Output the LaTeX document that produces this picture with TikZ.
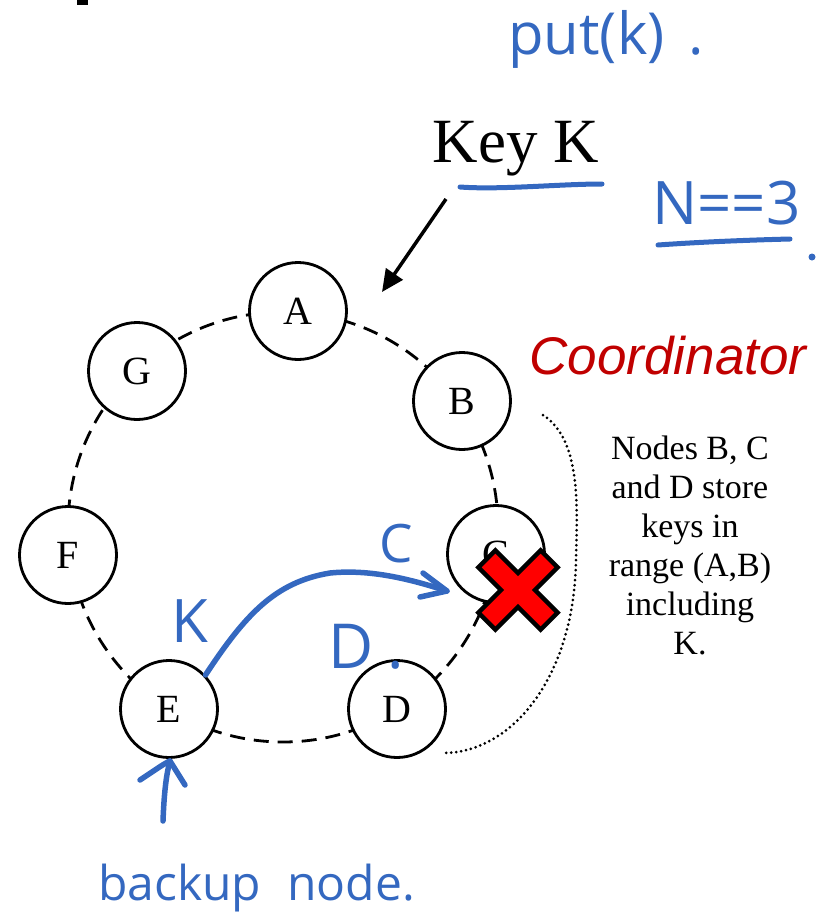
\documentclass[tikz,border=0pt]{standalone}
\usepackage{fontspec}
\setmainfont{Liberation Serif}
\newfontfamily\arialfont{Liberation Sans}
\newfontfamily\handfont{Open Sans}
\usetikzlibrary{arrows.meta}
\definecolor{pen}{RGB}{52,104,192}
\definecolor{coordred}{RGB}{192,0,0}
\begin{document}
\begin{tikzpicture}[x=1pt,y=-1pt,
  ringnode/.style={circle,draw,line width=2.8pt,fill=white,minimum size=97pt,inner sep=0pt,font=\fontsize{40}{44}\selectfont},
  hand/.style={text=pen,font=\handfont\fontsize{#1}{#1}\selectfont,inner sep=0pt},
  penline/.style={draw=pen,line width=5.5pt,line cap=round,line join=round},
  dotline/.style={line width=3pt,line cap=round,dash pattern=on 0pt off 5pt}]
\useasboundingbox (0,0) rectangle (825,924);
\fill (77,0) rectangle (88,5);
% ring
\coordinate (O) at (283,527);
\draw[line width=2.8pt,dash pattern=on 15pt off 9pt] (O) circle[radius=215pt];
\node[ringnode] (A) at (298,311) {A};
\node[ringnode] (B) at (462,401) {B};
\node[ringnode] (C) at (496,554) {C};
\node[ringnode] (D) at (397,709) {D};
\node[ringnode] (E) at (169,709) {E};
\node[ringnode] (F) at (68,555) {F};
\node[ringnode] (G) at (137,371) {G};
% key
\node[anchor=base,font=\fontsize{63}{70}\selectfont,inner sep=0pt] (key) at (516,162) {Key K};
\coordinate (kt) at (446,199);
\coordinate (ka) at (382,292);
\draw[line width=3.5pt,-{Triangle[length=22pt,width=20pt]}] (kt) -- (ka);
% coordinator
\node[font=\arialfont\itshape\fontsize{53}{60}\selectfont,text=coordred] (coord) at (668,356) {Coordinator};
% note
\node[align=center,font=\fontsize{34}{39}\selectfont,inner sep=0pt] (note) at (690,545) {Nodes B, C\\and D store\\keys in\\range (A,B)\\including\\K.};
% dotted bracket
\coordinate (d1) at (543,415);
\coordinate (d2) at (445,753);
\draw[dotline] (d1) .. controls (582,440) and (577,510) .. (576,560) .. controls (574,680) and (510,752) .. (d2);
% red cross
\begin{scope}[shift={(518,590)},rotate=45]
\draw[fill=red,line width=4.5pt,line join=miter] (-44,-12) -- (-12,-12) -- (-12,-44) -- (12,-44) -- (12,-12) -- (44,-12) -- (44,12) -- (12,12) -- (12,44) -- (-12,44) -- (-12,12) -- (-44,12) -- cycle;
\end{scope}
% handwriting
\node[hand=58,anchor=base west] (put) at (508,54) {put(k)\hspace{24pt}.};
\draw[penline,line width=5pt] (460,187) .. controls (500,190) and (560,184) .. (602,184);
\node[hand=60,anchor=base west] (n3) at (652,224) {N==3};
\draw[penline,line width=5pt] (658,245) .. controls (700,242) and (750,240) .. (790,239);
\fill[pen] (812,257) circle[radius=3.5pt];
\node[hand=53] (hc) at (396,544) {C};
\node[hand=60] (hk) at (190,621) {K};
\node[hand=62,anchor=west] (hd) at (328,647) {D\hspace{14pt}.};
\node[hand=48,anchor=base west] (backup) at (98,900) {backup\hspace{26pt}node.};
% E to C arrow
\coordinate (ctip) at (447,591);
\draw[penline] (E.43) .. controls (245,615) and (275,582) .. (330,573) .. controls (370,569) and (410,579) .. (ctip);
\draw[penline] (ctip) ++(-24,-18) -- (ctip) -- ++(-27,6);
% backup arrow
\coordinate (btail) at (163,821);
\coordinate (btip) at (170,761);
\draw[penline] (btail) .. controls (164,795) and (166,775) .. (btip);
\draw[penline] (btip) ++(-30,19) .. controls +(18,-12) and +(-5,2) .. (btip) -- ++(15,24);
\end{tikzpicture}
\end{document}
